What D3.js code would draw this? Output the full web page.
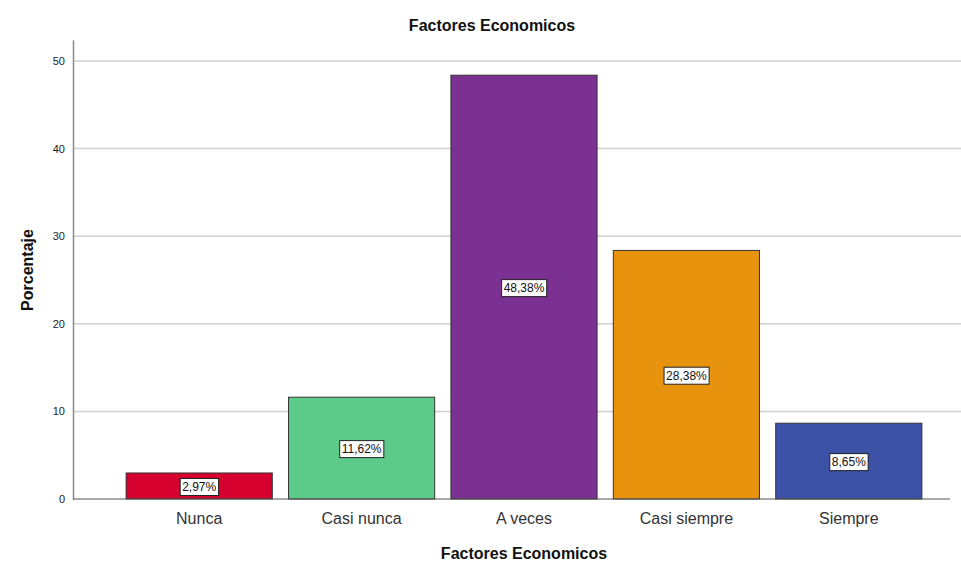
<!DOCTYPE html>
<html><head><meta charset="utf-8">
<script src="https://cdn.jsdelivr.net/npm/d3@7"></script>
<style>body{margin:0;background:#fff;} svg{display:block;font-family:"Liberation Sans",Arial,sans-serif;}</style>
</head><body>
<svg id="c" width="961" height="573"></svg>
<script>
const categories = ["Nunca","Casi nunca","A veces","Casi siempre","Siempre"];
const values = [2.97, 11.62, 48.38, 28.38, 8.65];
const labels = ["2,97%","11,62%","48,38%","28,38%","8,65%"];
const colors = ["#d6002f","#5ccb8a","#7b3192","#e8930e","#3b52a7"];
const yTicks = [0,10,20,30,40,50];

const svg = d3.select("#c");
const x = d3.scaleBand().domain(categories).range([118,930]).paddingInner(0.1).paddingOuter(0.05);
const y = d3.scaleLinear().domain([0,52.4]).range([499,40]);

// gridlines
svg.append("g").selectAll("line").data(yTicks.slice(1)).join("line")
  .attr("x1",73).attr("x2",961).attr("y1",d=>y(d)).attr("y2",d=>y(d))
  .attr("stroke","#cfcfcf").attr("stroke-width",1.5);

// y axis
const ya = svg.append("g").attr("transform","translate(73,0)")
  .call(d3.axisLeft(y).tickValues(yTicks).tickSize(0).tickPadding(8));
ya.select(".domain").attr("stroke","#8a8a8a").attr("stroke-width",1.5);
ya.selectAll("text").attr("font-size",11).attr("fill","#222").attr("font-family","Liberation Sans, Arial, sans-serif");

// bars
svg.append("g").selectAll("rect").data(values).join("rect")
  .attr("x",(d,i)=>x(categories[i])).attr("width",x.bandwidth())
  .attr("y",d=>y(d)).attr("height",d=>y(0)-y(d))
  .attr("fill",(d,i)=>colors[i]).attr("stroke","#333").attr("stroke-width",1);

// baseline
svg.append("line").attr("x1",73).attr("x2",950).attr("y1",y(0)).attr("y2",y(0))
  .attr("stroke","#555").attr("stroke-width",1.2);

// value labels
const lg = svg.append("g");
values.forEach((v,i)=>{
  const cx = x(categories[i]) + x.bandwidth()/2;
  const cy = (y(v)+y(0))/2 + 1;
  const t = lg.append("text").attr("x",cx).attr("y",cy).attr("text-anchor","middle")
    .attr("dominant-baseline","central").attr("font-size",12).attr("fill","#111").text(labels[i]);
  const bb = t.node().getBBox();
  lg.insert("rect","text").attr("x",bb.x-2).attr("y",bb.y-1.5).attr("width",bb.width+4).attr("height",bb.height+3)
    .attr("fill","#fff").attr("stroke","#222").attr("stroke-width",1);
});

// x category labels
svg.append("g").selectAll("text").data(categories).join("text")
  .attr("x",d=>x(d)+x.bandwidth()/2).attr("y",524).attr("text-anchor","middle")
  .attr("font-size",16).attr("fill","#333").text(d=>d);

// titles
svg.append("text").attr("x",492).attr("y",31).attr("text-anchor","middle")
  .attr("font-size",16).attr("font-weight","bold").attr("fill","#111").text("Factores Economicos");
svg.append("text").attr("x",524).attr("y",559).attr("text-anchor","middle")
  .attr("font-size",16).attr("font-weight","bold").attr("fill","#111").text("Factores Economicos");
svg.append("text").attr("transform","translate(33,270) rotate(-90)").attr("text-anchor","middle")
  .attr("font-size",16).attr("font-weight","bold").attr("fill","#111").text("Porcentaje");
</script>
</body></html>
